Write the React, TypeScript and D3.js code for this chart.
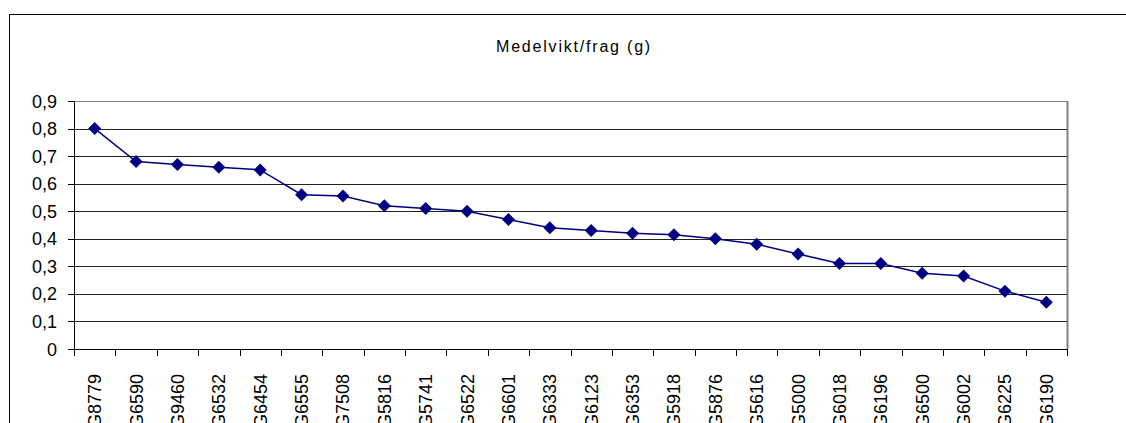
import * as d3 from "d3";

const categories = [
  "G8779", "G6590", "G9460", "G6532", "G6454", "G6555", "G7508", "G5816",
  "G5741", "G6522", "G6601", "G6333", "G6123", "G6353", "G5918", "G5876",
  "G5616", "G5000", "G6018", "G6196", "G6500", "G6002", "G6225", "G6190",
];
const values = [
  0.80, 0.68, 0.67, 0.66, 0.65, 0.56, 0.555, 0.52, 0.51, 0.50, 0.47, 0.44,
  0.43, 0.42, 0.415, 0.40, 0.38, 0.345, 0.31, 0.31, 0.275, 0.265, 0.21, 0.17,
];
const yTicks = [0, 0.1, 0.2, 0.3, 0.4, 0.5, 0.6, 0.7, 0.8, 0.9];
const title = "Medelvikt/frag (g)";

export default function App() {
  const left = 74, right = 1067, top = 101, bottom = 349;
  const x = d3.scaleBand<string>().domain(categories).range([left, right]).padding(0);
  const y = d3.scaleLinear().domain([0, 0.9]).range([bottom, top]);
  const cx = (c: string) => (x(c) ?? 0) + x.bandwidth() / 2;

  const line = d3.line<number>()
    .x((_, i) => cx(categories[i]))
    .y(d => y(d));

  const fmt = (v: number) => (v === 0 ? "0" : d3.format(".1f")(v).replace(".", ","));
  const boundaries = categories.map(c => x(c) ?? 0).concat([right]);
  const diamond = "M0,-6.5L6.5,0L0,6.5L-6.5,0Z";

  return (
    <svg
      width={1126}
      height={423}
      style={{ position: "absolute", left: 0, top: 0, background: "#fff" }}
      fontFamily="'Liberation Sans', Arial, sans-serif"
    >
      <rect x={9.5} y={14.5} width={1300} height={600} fill="none" stroke="#000" strokeWidth={1} />

      <text x={574} y={52} textAnchor="middle" fontSize={16} letterSpacing={1.8} fill="#000">
        {title}
      </text>

      {/* grid */}
      {yTicks.filter(t => t > 0).map(t => (
        <line key={t} x1={left} x2={right} y1={Math.round(y(t)) + 0.5} y2={Math.round(y(t)) + 0.5}
          stroke={t === 0.9 ? "#808080" : "#222"} strokeWidth={1} />
      ))}
      <line x1={right + 0.5} x2={right + 0.5} y1={top} y2={bottom} stroke="#808080" strokeWidth={2} />

      {/* y axis */}
      <line x1={left + 0.5} x2={left + 0.5} y1={top} y2={bottom} stroke="#000" />
      {yTicks.map(t => (
        <g key={t}>
          <line x1={68} x2={left} y1={Math.round(y(t)) + 0.5} y2={Math.round(y(t)) + 0.5} stroke="#000" />
          <text x={57} y={y(t) + 6.5} textAnchor="end" fontSize={18} fill="#000">{fmt(t)}</text>
        </g>
      ))}

      {/* x axis */}
      <line x1={left} x2={right + 1} y1={bottom + 0.5} y2={bottom + 0.5} stroke="#000" />
      {boundaries.map((b, i) => (
        <line key={i} x1={Math.round(b) + 0.5} x2={Math.round(b) + 0.5} y1={bottom} y2={bottom + 7} stroke="#000" />
      ))}
      {categories.map(c => (
        <text key={c} transform={`translate(${cx(c) + 6.5},374) rotate(-90)`} textAnchor="end"
          fontSize={18} fill="#000">{c}</text>
      ))}

      {/* series */}
      <path d={line(values) ?? ""} fill="none" stroke="#000080" strokeWidth={1.5} />
      {values.map((v, i) => (
        <path key={i} d={diamond} transform={`translate(${cx(categories[i])},${y(v)})`} fill="#000080" />
      ))}
    </svg>
  );
}
